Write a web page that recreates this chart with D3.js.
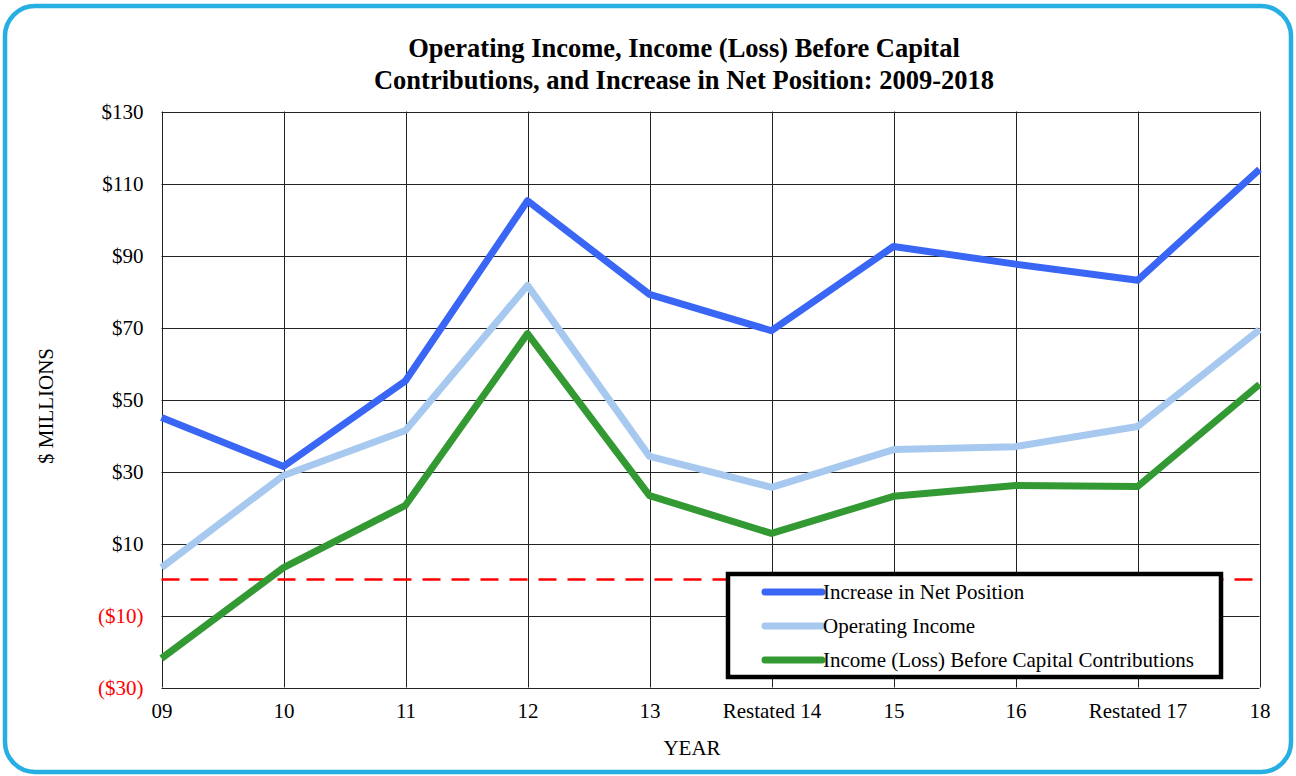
<!DOCTYPE html>
<html>
<head>
<meta charset="utf-8">
<script src="https://cdn.jsdelivr.net/npm/d3@7"></script>
<style>
  html, body { margin: 0; padding: 0; background: #fff; }
  svg { display: block; font-family: "Liberation Serif", "Times New Roman", serif; }
</style>
</head>
<body>
<svg id="chart" width="1296" height="776"></svg>
<script>
// categorias y series
const years = ['09', '10', '11', '12', '13', 'Restated 14', '15', '16', 'Restated 17', '18'];
const netPosition = [45, 31.4, 55.2, 105.2, 79.2, 69.1, 92.5, 87.6, 83.1, 113.9];
const operatingIncome = [3.3, 28.9, 41.4, 81.7, 34.2, 25.6, 36.1, 36.9, 42.5, 69.4];
const incomeBeforeCap = [-21.9, 3.3, 20.6, 68.3, 23.3, 12.8, 23.1, 26.1, 25.8, 54.2];
const yTicks = [-30, -10, 10, 30, 50, 70, 90, 110, 130];

const seriesList = [
  { name: 'Increase in Net Position', values: netPosition, color: '#3a66f5' },
  { name: 'Operating Income', values: operatingIncome, color: '#a7c9ef' },
  { name: 'Income (Loss) Before Capital Contributions', values: incomeBeforeCap, color: '#339933' }
];

const svg = d3.select('#chart');
const W = 1296, H = 776;
const m = { left: 161.5, top: 111.5, right: 1259.5, bottom: 687.5 };
const FS = 21;

// marco redondeado
svg.append('rect')
  .attr('x', 5).attr('y', 6).attr('width', W - 10).attr('height', H - 10)
  .attr('rx', 30).attr('fill', '#fff')
  .attr('stroke', '#27aee3').attr('stroke-width', 4.5);

const x = d3.scalePoint().domain(years).range([m.left, m.right]);
const y = d3.scaleLinear().domain([-30, 130]).range([m.bottom, m.top]);

// grilla
const grid = svg.append('g');
grid.selectAll('line.h').data(yTicks).join('line')
  .attr('x1', m.left).attr('x2', m.right)
  .attr('y1', d => Math.round(y(d)) + 0.5).attr('y2', d => Math.round(y(d)) + 0.5)
  .attr('stroke', '#222').attr('stroke-width', 1);
grid.selectAll('line.v').data(years).join('line')
  .attr('y1', m.top).attr('y2', m.bottom)
  .attr('x1', d => Math.round(x(d)) + 0.5).attr('x2', d => Math.round(x(d)) + 0.5)
  .attr('stroke', '#222').attr('stroke-width', 1);

// ejes (solo etiquetas)
const yAxis = svg.append('g').attr('transform', `translate(${m.left},0)`)
  .call(d3.axisLeft(y).tickValues(yTicks).tickSize(0).tickPadding(18)
    .tickFormat(d => d < 0 ? `($${Math.abs(d)})` : `$${d}`));
yAxis.select('.domain').remove();
yAxis.selectAll('text')
  .attr('font-family', '"Liberation Serif", serif').attr('font-size', FS)
  .attr('fill', d => d < 0 ? '#ff0000' : '#000');

const xAxis = svg.append('g').attr('transform', `translate(0,${m.bottom})`)
  .call(d3.axisBottom(x).tickSize(0).tickPadding(16));
xAxis.select('.domain').remove();
xAxis.selectAll('text')
  .attr('font-family', '"Liberation Serif", serif').attr('font-size', FS).attr('fill', '#000');

// línea de cero
svg.append('line')
  .attr('x1', m.left).attr('x2', m.right)
  .attr('y1', y(0)).attr('y2', y(0))
  .attr('stroke', '#ff0000').attr('stroke-width', 2.5)
  .attr('stroke-dasharray', '18,11');

// series
const line = d3.line().x((d, i) => x(years[i])).y(d => y(d));
svg.append('g').selectAll('path').data(seriesList).join('path')
  .attr('d', d => line(d.values))
  .attr('fill', 'none').attr('stroke', d => d.color)
  .attr('stroke-width', 7).attr('stroke-linejoin', 'round');

// títulos
const title = svg.append('text').attr('text-anchor', 'middle')
  .attr('font-size', 26.5).attr('font-weight', 700).attr('fill', '#000');
title.append('tspan').attr('x', 684).attr('y', 57).text('Operating Income, Income (Loss) Before Capital');
title.append('tspan').attr('x', 684).attr('y', 89).text('Contributions, and Increase in Net Position: 2009-2018');

svg.append('text').attr('transform', 'translate(53,406) rotate(-90)')
  .attr('text-anchor', 'middle').attr('font-size', FS).text('$ MILLIONS');
svg.append('text').attr('x', 692).attr('y', 755)
  .attr('text-anchor', 'middle').attr('font-size', FS).text('YEAR');

// leyenda
const lg = svg.append('g').attr('transform', 'translate(728,574)');
lg.append('rect').attr('width', 493).attr('height', 103)
  .attr('fill', '#fff').attr('stroke', '#000').attr('stroke-width', 4.5);
const items = lg.selectAll('g.item').data(seriesList).join('g')
  .attr('transform', (d, i) => `translate(0,${18 + i * 34})`);
items.append('line').attr('x1', 37).attr('x2', 94)
  .attr('stroke', d => d.color).attr('stroke-width', 7).attr('stroke-linecap', 'round');
items.append('text').attr('x', 95).attr('y', 7)
  .attr('font-size', FS).attr('fill', '#000').text(d => d.name);
</script>
</body>
</html>
